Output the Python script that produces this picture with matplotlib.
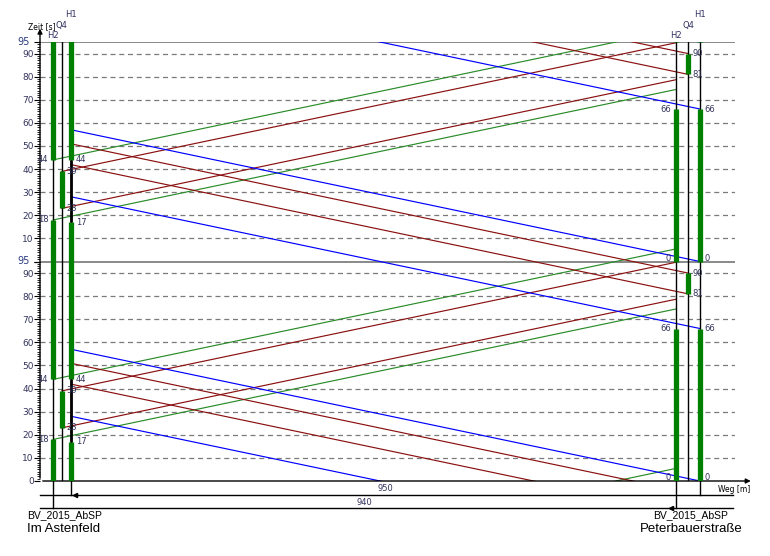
import matplotlib
matplotlib.use("Agg")
import matplotlib.pyplot as plt
from matplotlib.ticker import MultipleLocator

# time-space diagram, cycle 95 s, two cycles shown
cycle = 95
speed_kmh = 60
v = speed_kmh / 3.6

# signal groups (position in m, green start / end in s)
sig_names = ["H2", "Q4", "H1"]
left_pos = [20, 33, 47]
right_pos = [961, 979, 997]
left_green = [(44, 18), (23, 39), (44, 17)]
right_green = [(0, 66), (81, 90), (0, 66)]

# bands: colour, from position, to position, start times in cycle
band_colors = ["#2a8c2a", "#8b1010", "#8b1010", "#0000ff"]
band_from = [20, 33, 979, 997]
band_to = [961, 961, 47, 47]
band_starts = [[18, 44], [23, 39], [81, 90], [0, 66]]

dist_labels = ["950", "940"]
dist_from = [47, 20]
dist_to = [997, 961]

node_id = "BV_2015_AbSP"
node_left = "Im Astenfeld"
node_right = "Peterbauerstraße"

num_col = "#34345e"
green = "#008000"

fig = plt.figure(figsize=(7.7, 5.56), dpi=100)
ax = fig.add_axes([40 / 770, 75 / 556, 695 / 770, 439 / 556])
ax.set_xlim(0, 1050)
ax.set_ylim(0, 2 * cycle)
for s in ax.spines.values():
    s.set_visible(False)

# grid: dashed every 10 s, solid at the cycle boundaries
for k in range(2):
    for t in range(10, cycle, 10):
        ax.axhline(t + k * cycle, color="#7a7a7a", lw=0.9, ls=(0, (4, 3)), zorder=1)
ax.axhline(cycle, color="#808080", lw=1.3, zorder=1)
ax.axhline(2 * cycle, color="#808080", lw=1.3, zorder=1)

# y ticks, labels restart each cycle
major = [t + k * cycle for k in range(2) for t in range(0, cycle, 10)] + [cycle, 2 * cycle]
labels = ["" if t in (cycle, 2 * cycle) else str(t % cycle) for t in major]
ax.set_yticks(major)
ax.set_yticklabels(labels)
ax.yaxis.set_minor_locator(MultipleLocator(1))
ax.tick_params(axis="y", which="major", length=4, width=0.8, pad=0.5,
               labelsize=6.5, labelcolor=num_col)
ax.tick_params(axis="y", which="minor", length=2.5, width=0.6)
ax.set_xticks([])
for t in (cycle, 2 * cycle):
    ax.annotate("95", (0, t), xytext=(-7.5, 0), textcoords="offset points",
                ha="right", va="center", fontsize=7, color="#2a3c80")

# axes arrows
ax.annotate("", xy=(1078, 0), xytext=(0, 0), annotation_clip=False,
            arrowprops=dict(arrowstyle="-|>", color="black", lw=1, mutation_scale=7))
ax.annotate("", xy=(0, 197), xytext=(0, 0), annotation_clip=False,
            arrowprops=dict(arrowstyle="-|>", color="black", lw=1, mutation_scale=7))
ax.text(3, 196.5, "Zeit [s]", fontsize=5.5, ha="center", va="center")
ax.text(1048, -3.5, "Weg [m]", fontsize=5.5, ha="center", va="center")

# signal heads
label_t = [193, 197.3, 202.1]
for xs in (left_pos, right_pos):
    for name, x, lt in zip(sig_names, xs, label_t):
        ax.axvline(x, color="black", lw=1, zorder=3)
        ax.text(x, lt, name, fontsize=6, ha="center", va="center", color="#303060")

for xs, greens in ((left_pos, left_green), (right_pos, right_green)):
    for x, (g0, g1) in zip(xs, greens):
        if g1 < g0:
            g1 += cycle
        for k in range(-1, 3):
            ax.plot([x, x], [g0 + k * cycle, g1 + k * cycle], color=green, lw=3.8,
                    solid_capstyle="butt", zorder=4)

# red phase of left H1 drawn heavy
g0, g1 = left_green[2]
for k in range(-1, 3):
    ax.plot([left_pos[2]] * 2, [g1 + k * cycle, g0 + k * cycle], color="black", lw=2,
            solid_capstyle="butt", zorder=4)

# trajectories
for col, x0, x1, starts in zip(band_colors, band_from, band_to, band_starts):
    tt = abs(x1 - x0) / v
    for s in starts:
        for k in range(-2, 3):
            t0 = s + k * cycle
            ax.plot([x0, x1], [t0, t0 + tt], color=col, lw=0.85, zorder=2)

# green time numbers
def num(x, t, txt, side):
    for k in range(2):
        ax.annotate(txt, (x, t + k * cycle), xytext=(3.5 * side, 0), textcoords="offset points",
                    ha="left" if side > 0 else "right", va="center", fontsize=6,
                    color=num_col, zorder=6)

num(left_pos[0], 44, "44", -1)
num(left_pos[0], 18, "18", -1)
num(left_pos[1], 39, "39", 1)
num(left_pos[1], 23, "23", 1)
num(left_pos[2], 44, "44", 1)
num(left_pos[2], 17, "17", 1)
num(right_pos[0], 1.5, "0", -1)
num(right_pos[0], 66, "66", -1)
num(right_pos[1], 90, "90", 1)
num(right_pos[1], 81, "81", 1)
num(right_pos[2], 1.5, "0", 1)
num(right_pos[2], 66, "66", 1)

# distance lines below the axis
dim_t = [-6.06, -11.7]
for lab, a, b, t in zip(dist_labels, dist_from, dist_to, dim_t):
    ax.plot([0, 1047], [t, t], color="black", lw=1, clip_on=False)
    ax.plot([a, a], [0, t], color="black", lw=1, clip_on=False)
    ax.plot([b, b], [0, t], color="black", lw=1, clip_on=False)
    ax.text((a + b) / 2, t + 2.6, lab, fontsize=6, ha="center", va="center", color=num_col)
ax.plot([53], [dim_t[0]], marker="<", ms=3, color="black", clip_on=False)
ax.plot([953], [dim_t[1]], marker="<", ms=3, color="black", clip_on=False)

ax.text(-20, -14.8, node_id, fontsize=7.5, family="Liberation Sans", ha="left", va="center")
ax.text(-20, -20.6, node_left, fontsize=9.5, family="Liberation Sans", ha="left", va="center")
ax.text(927, -14.8, node_id, fontsize=7.5, family="Liberation Sans", ha="left", va="center")
ax.text(906, -20.6, node_right, fontsize=9.5, family="Liberation Sans", ha="left", va="center")

fig.savefig("out.png", dpi=100)
